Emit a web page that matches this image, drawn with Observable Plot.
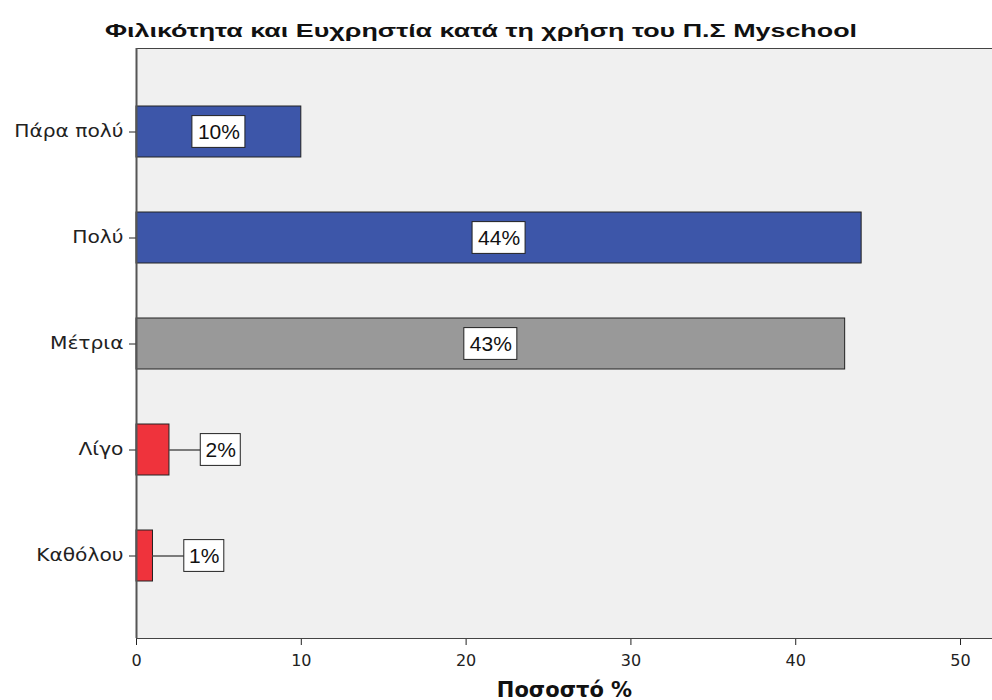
<!DOCTYPE html>
<html>
<head>
<meta charset="utf-8">
<script src="https://cdn.jsdelivr.net/npm/d3@7"></script>
<script src="https://cdn.jsdelivr.net/npm/@observablehq/plot@0.6"></script>
<style>
  html, body { margin: 0; padding: 0; background: #ffffff; }
  #title { height: 44px; box-sizing: border-box; padding: 21px 0 0 105px; font: bold 18px "Liberation Sans", Arial, sans-serif; line-height: 20px; color: #111; white-space: nowrap; overflow: visible; }
  #title span { display: inline-block; transform-origin: 0 50%; }
  #chart svg { display: block; }
</style>
</head>
<body>
<div id="title"><span>Φιλικότητα και Ευχρηστία κατά τη χρήση του Π.Σ Myschool</span></div>
<div id="chart"></div>
<script>
const categories = ["Πάρα πολύ", "Πολύ", "Μέτρια", "Λίγο", "Καθόλου"];
const values = [10, 44, 43, 2, 1];
const valueLabels = ["10%", "44%", "43%", "2%", "1%"];
const barColors = ["#3d56a9", "#3d56a9", "#999999", "#ef333c", "#ef333c"];
const xTicks = [0, 10, 20, 30, 40, 50];
const xLabel = "Ποσοστό %";

const W = 992, H = 656, mL = 136, mR = 0, mT = 4, mB = 62;
const xMax = 51.94;
const k = (W - mL - mR) / xMax; // px per unit

const data = categories.map((c, i) => {
  const v = values[i];
  const lab = valueLabels[i];
  const halfW = (lab.length === 2 ? 20 : 26.5) / k;
  const small = v < 5;
  const cx = small ? v + 1.9 + halfW : v / 2;
  return {cat: c, value: v, label: lab, color: barColors[i], cx, x1: cx - halfW, x2: cx + halfW, small};
});

const chart = Plot.plot({
  width: W, height: H,
  marginLeft: mL, marginRight: mR, marginTop: mT, marginBottom: mB,
  style: {fontFamily: "'DejaVu Sans', Verdana, sans-serif", fontSize: "16px", color: "#222", background: "#fff"},
  x: {domain: [0, xMax], ticks: xTicks, tickSize: 7, tickPadding: 9, label: null},
  y: {domain: categories, padding: 0.52, tickSize: 7, tickPadding: 6, label: null},
  color: {type: "identity"},
  marks: [
    Plot.frame({fill: "#f0f0f0", stroke: "#444", insetRight: -3}),
    Plot.barX(data, {x: "value", y: "cat", fill: "color", stroke: "#222", strokeWidth: 1}),
    Plot.ruleY(data.filter(d => d.small), {x1: "value", x2: "x1", y: "cat", stroke: "#555", strokeWidth: 1.5}),
    Plot.barX(data, {x1: "x1", x2: "x2", y: "cat", insetTop: 9.6, insetBottom: 9.6, fill: "white", stroke: "#222", strokeWidth: 1}),
    Plot.text(data, {x: "cx", y: "cat", text: "label", fill: "#111", fontSize: 21, fontFamily: "'Liberation Sans', Arial, sans-serif"}),
    Plot.ruleX([0], {stroke: "#555", strokeWidth: 2}),
    Plot.text([xLabel], {frameAnchor: "bottom", dy: 58, fontWeight: "bold", fontSize: 21, fill: "#111", fontFamily: "'DejaVu Sans', Verdana, sans-serif"})
  ]
});
document.getElementById("chart").appendChild(chart);

// widen y tick labels (reference font is horizontally stretched), keep right edge fixed
d3.select(chart).selectAll("g[aria-label='y-axis tick label'] text").each(function() {
  this.style.fontSize = "17px";
  const b = this.getBBox();
  const bx = b.x + b.width;
  const t = this.getAttribute("transform") || "";
  this.setAttribute("transform", `${t} translate(${bx},0) scale(1.19,1) translate(${-bx},0)`);
});

// stretch title to the reference width
const span = document.querySelector("#title span");
const tw = span.getBoundingClientRect().width;
span.style.transform = `scaleX(${752 / tw})`;
</script>
</body>
</html>
